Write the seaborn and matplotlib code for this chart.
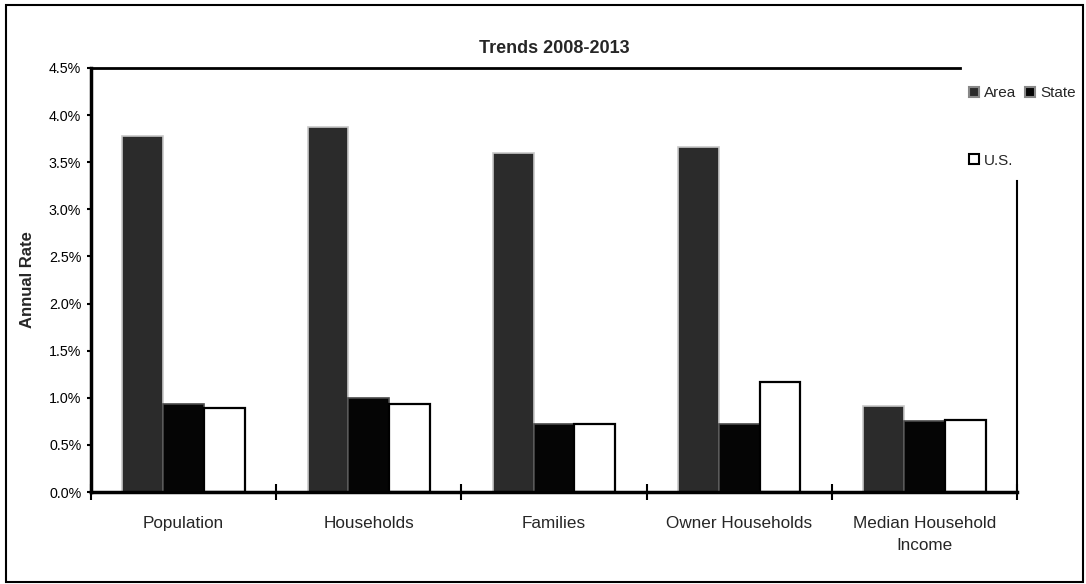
import pandas as pd
import seaborn as sns
import matplotlib.pyplot as plt
from matplotlib.patches import Rectangle
from matplotlib.ticker import FuncFormatter

# Values (annual rate, %)
categories = ["Population", "Households", "Families", "Owner Households", "Median Household\nIncome"]
area = [3.78, 3.87, 3.60, 3.66, 0.91]
state = [0.93, 1.00, 0.72, 0.72, 0.75]
us = [0.89, 0.93, 0.72, 1.17, 0.76]
series = ["Area", "State", "U.S."]

df = pd.DataFrame({
    "Category": categories * 3,
    "Series": ["Area"] * 5 + ["State"] * 5 + ["U.S."] * 5,
    "Rate": area + state + us,
})

sns.set_theme(style="white")
plt.rcParams["font.family"] = ["Liberation Sans", "DejaVu Sans"]

fig = plt.figure(figsize=(10.86, 5.84), dpi=100)
ax = fig.add_axes([0.0838, 0.1575, 0.9365 - 0.0838, 0.8836 - 0.1575])

fills = {"Area": "#2b2b2b", "State": "#050505", "U.S.": "#ffffff"}
edges = {"Area": "#c8c8c8", "State": "#4a4a4a", "U.S.": "#000000"}

sns.barplot(data=df, x="Category", y="Rate", hue="Series", hue_order=series,
            order=categories, palette=fills, width=0.66, saturation=1,
            ax=ax, legend=False)

for cont, name in zip(ax.containers, series):
    for bar in cont:
        bar.set_edgecolor(edges[name])
        bar.set_linewidth(1.6 if name == "U.S." else 1.2)

ax.set_ylim(0, 4.5)
ax.set_xlim(-0.5, 4.5)
ax.set_yticks([i * 0.5 for i in range(10)])
ax.yaxis.set_major_formatter(FuncFormatter(lambda v, p: f"{v:.1f}%"))
ax.tick_params(axis="y", direction="out", length=3, width=1.5, labelsize=10.3,
               left=True, pad=4, colors="black")

# category boundaries as crossing ticks, labels on minor ticks at centres
ax.set_xticks([i - 0.5 for i in range(6)])
ax.set_xticklabels([])
ax.tick_params(axis="x", which="major", direction="inout", length=12, width=1.5,
               bottom=True, colors="black")
ax.set_xticks(range(5), minor=True)
ax.set_xticklabels(categories, minor=True, fontsize=12.3, linespacing=1.6)
ax.tick_params(axis="x", which="minor", length=0, pad=17)

ax.set_xlabel("")
ax.set_ylabel("Annual Rate", fontsize=12, fontweight="bold", labelpad=10)
ax.set_title("Trends 2008-2013", fontsize=13, fontweight="bold", pad=11)

for side, lw in [("left", 2.5), ("bottom", 2.5), ("top", 2.0), ("right", 1.5)]:
    ax.spines[side].set_visible(True)
    ax.spines[side].set_color("black")
    ax.spines[side].set_linewidth(lw)
# the legend block interrupts the plot-area border at the top right
ax.spines["top"].set_bounds(-0.5, 4.19)
ax.spines["right"].set_bounds(0, 3.3)

# legend: Area / State on one row, U.S. below
handles = [Rectangle((0, 0), 1, 1, facecolor=fills[s], edgecolor="#000000" if s == "U.S." else "#888888",
                     linewidth=1.5) for s in series]
order = [0, 2, 1]
leg = fig.legend([handles[i] for i in order], [series[i] for i in order],
                 loc="upper left", bbox_to_anchor=(0.880, 0.876), ncol=2,
                 fontsize=11, frameon=False, fancybox=False,
                 handlelength=0.65, handleheight=0.65,
                 handletextpad=0.3, columnspacing=0.6, labelspacing=3.5,
                 borderpad=0.4)

# outer chart frame
fig.patches.append(Rectangle((0.0055, 0.004), 0.992, 0.987, transform=fig.transFigure,
                             fill=False, edgecolor="black", linewidth=1.5))

fig.savefig("out.png", dpi=100)
